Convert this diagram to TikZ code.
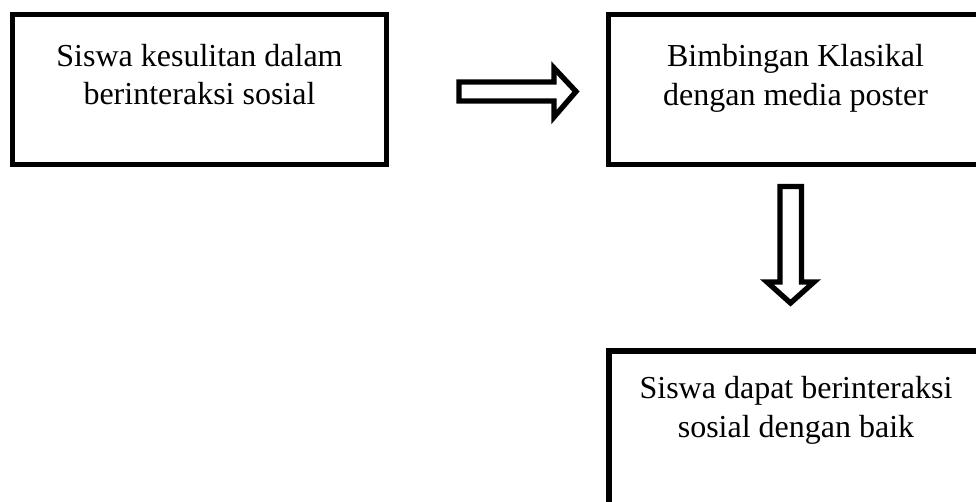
\documentclass[tikz,border=0pt]{standalone}
\usepackage{fontspec}
\setmainfont{Liberation Serif}
\begin{document}
\begin{tikzpicture}[x=0.75pt,y=-0.75pt,
  boxnode/.style={draw=black,line width=3.9pt,rectangle,inner sep=0pt,outer sep=0pt,minimum width=280.5pt},
  txt/.style={anchor=base,inner sep=0pt,font=\fontsize{24pt}{28.5pt}\selectfont},
  blockarrow/.style={draw=black,fill=white,line width=4pt,line join=miter}]
\useasboundingbox (0,0) rectangle (976,501);
\clip (0,0) rectangle (976,501);
% boxes
\node[boxnode,minimum height=112.5pt] (b1) at (199.5,89.5) {};
\node[boxnode,minimum height=112.5pt] (b2) at (795.5,89.5) {};
\node[boxnode,minimum height=135pt] (b3) at (796,441) {};
% texts
\node[txt] (t1a) at (199.5,66) {Siswa kesulitan dalam};
\node[txt] (t1b) at (199.5,104) {berinteraksi sosial};
\node[txt] (t2a) at (795.5,66) {Bimbingan Klasikal};
\node[txt] (t2b) at (795.5,105) {dengan media poster};
\node[txt] (t3a) at (796,398) {Siswa dapat berinteraksi};
\node[txt] (t3b) at (796,437) {sosial dengan baik};
% right block arrow
\draw[blockarrow] (459,82) -- (554,82) -- (554,68) -- (576,91.5) -- (554,117) -- (554,101) -- (459,101) -- cycle;
% down block arrow
\draw[blockarrow] (780,186.5) -- (801.5,186.5) -- (801.5,282) -- (814,282) -- (790.5,303) -- (767,282) -- (780,282) -- cycle;
\end{tikzpicture}
\end{document}
